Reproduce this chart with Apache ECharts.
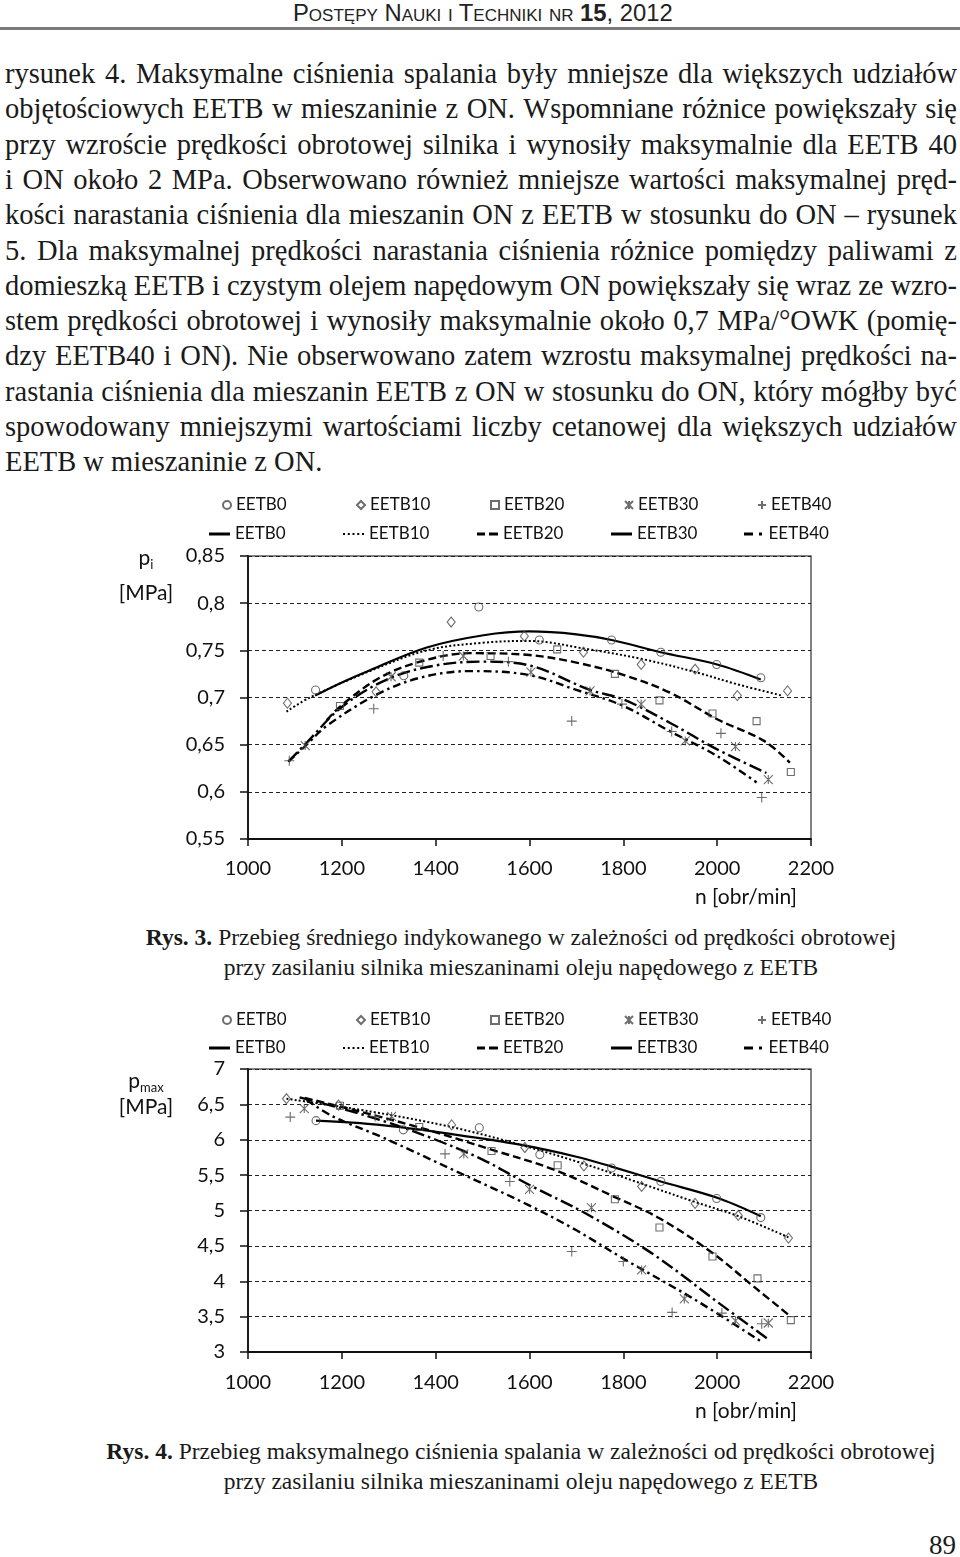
<!DOCTYPE html>
<html>
<head>
<meta charset="utf-8">
<script src="https://cdn.jsdelivr.net/npm/echarts@6/dist/echarts.min.js"></script>
<style>
html,body{margin:0;padding:0;background:#fff;}
body{width:960px;height:1557px;position:relative;overflow:hidden;font-family:"Liberation Serif","Times New Roman",serif;color:#1a1a1a;}
.hdr{position:absolute;left:293px;top:0px;font-family:"Liberation Sans",Arial,sans-serif;font-size:23.8px;line-height:26px;font-variant:small-caps;white-space:nowrap;color:#222;}
.rule{position:absolute;left:0;top:27px;width:960px;height:3px;background:#7a7a7a;}
.ln{position:absolute;left:5px;width:952px;font-size:28.5px;line-height:36px;height:36px;white-space:nowrap;}
.ln.j{display:flex;justify-content:space-between;}
.cap{position:absolute;left:521px;transform:translateX(-50%);font-size:23.5px;line-height:30px;white-space:nowrap;}
.cap b{font-weight:bold;}
.pg{position:absolute;left:929px;top:1529px;font-size:27px;line-height:32px;}
.chart{position:absolute;left:0;width:960px;height:440px;}
</style>
</head>
<body>
<div class="hdr">Postępy Nauki i Techniki nr <b>15</b>, 2012</div>
<div class="rule"></div>
<div id="text"></div>
<div id="c1" class="chart" style="top:480px"></div>
<div class="cap" style="top:922px"><b>Rys. 3.</b> Przebieg średniego indykowanego w zależności od prędkości obrotowej</div>
<div class="cap" style="top:952px">przy zasilaniu silnika mieszaninami oleju napędowego z EETB</div>
<div id="c2" class="chart" style="top:995px"></div>
<div class="cap" style="top:1436px"><b>Rys. 4.</b> Przebieg maksymalnego ciśnienia spalania w zależności od prędkości obrotowej</div>
<div class="cap" style="top:1466px">przy zasilaniu silnika mieszaninami oleju napędowego z EETB</div>
<div class="pg">89</div>
<script>
// ---------- text ----------
const TEXT_LINES = [
  "rysunek 4. Maksymalne ciśnienia spalania były mniejsze dla większych udziałów",
  "objętościowych EETB w mieszaninie z ON. Wspomniane różnice powiększały się",
  "przy wzroście prędkości obrotowej silnika i wynosiły maksymalnie dla EETB 40",
  "i ON około 2 MPa. Obserwowano również mniejsze wartości maksymalnej pręd-",
  "kości narastania ciśnienia dla mieszanin ON z EETB w stosunku do ON – rysunek",
  "5. Dla maksymalnej prędkości narastania ciśnienia różnice pomiędzy paliwami z",
  "domieszką EETB i czystym olejem napędowym ON powiększały się wraz ze wzro-",
  "stem prędkości obrotowej i wynosiły maksymalnie około 0,7 MPa/°OWK (pomię-",
  "dzy EETB40 i ON). Nie obserwowano zatem wzrostu maksymalnej prędkości na-",
  "rastania ciśnienia dla mieszanin EETB z ON w stosunku do ON, który mógłby być",
  "spowodowany mniejszymi wartościami liczby cetanowej dla większych udziałów",
  "EETB w mieszaninie z ON."
];

// ---------- chart data ----------
const SERIES_NAMES = ['EETB0', 'EETB10', 'EETB20', 'EETB30', 'EETB40'];
const N_TICKS = [1000, 1200, 1400, 1600, 1800, 2000, 2200];
const PI_TICKS = ['0,55', '0,6', '0,65', '0,7', '0,75', '0,8', '0,85'];
const PMAX_TICKS = ['3', '3,5', '4', '4,5', '5', '5,5', '6', '6,5', '7'];

// Rys. 3 – measured p_i [MPa] vs n [obr/min]
const PI_PTS_EETB0  = [[1144,0.708],[1332,0.723],[1492,0.796],[1621,0.761],[1775,0.761],[1880,0.748],[1999,0.735],[2093,0.721]];
const PI_PTS_EETB10 = [[1084,0.694],[1273,0.706],[1433,0.780],[1589,0.765],[1715,0.748],[1838,0.735],[1953,0.730],[2043,0.702],[2150,0.707]];
const PI_PTS_EETB20 = [[1196,0.691],[1365,0.737],[1517,0.744],[1659,0.751],[1782,0.725],[1877,0.697],[1990,0.683],[2084,0.675],[2157,0.621]];
const PI_PTS_EETB30 = [[1122,0.649],[1305,0.722],[1459,0.744],[1603,0.727],[1729,0.707],[1838,0.693],[1932,0.654],[2039,0.648],[2109,0.613]];
const PI_PTS_EETB40 = [[1088,0.633],[1268,0.688],[1416,0.744],[1555,0.738],[1690,0.675],[1797,0.693],[1903,0.664],[2008,0.662],[2095,0.594]];

// Rys. 3 – trend lines
const PI_FIT_EETB0  = [[1143,0.702],[1200,0.716],[1260,0.729],[1381,0.753],[1502,0.766],[1600,0.770],[1700,0.767],[1775,0.761],[1880,0.748],[2000,0.735],[2093,0.719]];
const PI_FIT_EETB10 = [[1082,0.685],[1132,0.700],[1260,0.728],[1381,0.750],[1500,0.758],[1600,0.760],[1715,0.752],[1838,0.741],[1953,0.727],[2043,0.714],[2138,0.702]];
const PI_FIT_EETB20 = [[1168,0.676],[1200,0.692],[1281,0.721],[1367,0.738],[1473,0.747],[1600,0.745],[1700,0.737],[1800,0.724],[1900,0.705],[2000,0.677],[2100,0.654],[2155,0.631]];
const PI_FIT_EETB30 = [[1086,0.632],[1125,0.652],[1200,0.690],[1300,0.720],[1400,0.734],[1500,0.738],[1600,0.734],[1729,0.708],[1800,0.698],[1900,0.673],[2000,0.645],[2105,0.620]];
const PI_FIT_EETB40 = [[1086,0.632],[1125,0.650],[1168,0.670],[1274,0.703],[1367,0.721],[1473,0.728],[1597,0.724],[1700,0.708],[1800,0.691],[1900,0.664],[2000,0.638],[2084,0.610]];

// Rys. 4 – measured p_max [MPa] vs n [obr/min]
const PMAX_PTS_EETB0  = [[1145,6.27],[1331,6.14],[1493,6.17],[1622,5.79],[1775,5.60],[1880,5.41],[1999,5.17],[2093,4.90]];
const PMAX_PTS_EETB10 = [[1082,6.58],[1193,6.49],[1434,6.21],[1590,5.89],[1716,5.63],[1839,5.34],[1953,5.10],[2045,4.93],[2152,4.61]];
const PMAX_PTS_EETB20 = [[1196,6.48],[1365,6.18],[1519,5.84],[1660,5.64],[1782,5.16],[1877,4.76],[1990,4.35],[2086,4.04],[2157,3.45]];
const PMAX_PTS_EETB30 = [[1120,6.44],[1306,6.33],[1460,5.80],[1600,5.30],[1732,5.04],[1839,4.16],[1930,3.75],[2039,3.44],[2109,3.41]];
const PMAX_PTS_EETB40 = [[1090,6.32],[1271,6.33],[1420,5.80],[1558,5.41],[1690,4.42],[1800,4.28],[1904,3.56],[2010,3.55],[2095,3.40]];

// Rys. 4 – trend lines
const PMAX_FIT_EETB0  = [[1145,6.27],[1281,6.21],[1445,6.07],[1580,5.93],[1700,5.76],[1775,5.62],[1880,5.41],[2000,5.18],[2093,4.92]];
const PMAX_FIT_EETB10 = [[1082,6.58],[1260,6.40],[1434,6.18],[1580,5.93],[1716,5.66],[1839,5.38],[1953,5.12],[2045,4.92],[2152,4.62]];
const PMAX_FIT_EETB20 = [[1121,6.59],[1196,6.47],[1367,6.17],[1519,5.86],[1651,5.58],[1782,5.19],[1877,4.89],[1990,4.40],[2077,3.93],[2155,3.51]];
const PMAX_FIT_EETB30 = [[1110,6.60],[1200,6.44],[1300,6.24],[1400,6.00],[1500,5.72],[1600,5.36],[1722,4.95],[1864,4.38],[2006,3.68],[2109,3.18]];
const PMAX_FIT_EETB40 = [[1125,6.56],[1181,6.33],[1288,6.03],[1445,5.55],[1597,5.08],[1700,4.72],[1800,4.32],[1950,3.75],[2091,3.16]];

// ---------- build text ----------
(function(){
  const host = document.getElementById('text');
  TEXT_LINES.forEach((s, i) => {
    const d = document.createElement('div');
    d.className = 'ln' + (i < TEXT_LINES.length - 1 ? ' j' : '');
    d.style.top = (74 + 35.3 * i - 18) + 'px';
    if (i < TEXT_LINES.length - 1) {
      s.split(' ').forEach(w => { const sp = document.createElement('span'); sp.textContent = w; d.appendChild(sp); });
    } else d.textContent = s;
    host.appendChild(d);
  });
})();

// ---------- chart builder ----------
const FONT = 'Lato';
const SYMBOLS = ['circle', 'diamond', 'rect',
  'path://M0,0L10,10M10,0L0,10M5,0L5,10',
  'path://M5,0L5,10M0,5L10,5'];
const SYMBOL_SIZES = [8, [8, 10], 7, 9, 10];
const LINE_TYPES = ['solid', [2, 2.2], [8, 4], [13, 4, 2.5, 4], [8, 4, 2.5, 4]];
const LINE_WIDTHS = [2.2, 2, 2.4, 2.4, 2.4];
const LINE_ICONS = [
  'path://M0,0H21V3H0Z',
  'path://M0,0h2v2h-2zM4.75,0h2v2h-2zM9.5,0h2v2h-2zM14.25,0h2v2h-2zM19,0h2v2h-2z',
  'path://M0,0h8v3h-8zM12,0h9v3h-9z',
  'path://M0,0H21V3H0Z',
  'path://M0,0h9v3h-9zM15,0h3v3h-3z'];
const LEGEND_TEXT_X = [235, 369, 503, 637, 770];

function buildOption(cfg) {
  const series = [];
  SERIES_NAMES.forEach((nm, i) => {
    series.push({
      type: 'line', name: nm + ' trend', data: cfg.fits[i], smooth: 0.35,
      symbol: 'none', showSymbol: false, silent: true, z: 2,
      lineStyle: { color: '#000', width: LINE_WIDTHS[i], type: LINE_TYPES[i] },
      itemStyle: { color: '#000', borderWidth: 0 }
    });
  });
  SERIES_NAMES.forEach((nm, i) => {
    series.push({
      type: 'scatter', name: nm, data: cfg.pts[i], symbol: SYMBOLS[i],
      symbolSize: SYMBOL_SIZES[i], z: 3, silent: true,
      itemStyle: { color: 'rgba(0,0,0,0)', borderColor: '#4a4a4a', borderWidth: 1.1 }
    });
  });
  const legends = [];
  SERIES_NAMES.forEach((nm, i) => {
    legends.push({
      data: [{ name: nm, icon: SYMBOLS[i] }], left: LEGEND_TEXT_X[i] - 13, top: cfg.legTop1 - 10,
      padding: 0, itemWidth: 8, itemHeight: 8, selectedMode: false,
      textStyle: { fontFamily: FONT, fontSize: 17, color: '#111', lineHeight: 20 }
    });
    legends.push({
      data: [{ name: nm + ' trend', icon: LINE_ICONS[i], itemStyle: { color: '#000', borderWidth: 0 } }],
      left: LEGEND_TEXT_X[i] - 26, top: cfg.legTop2 - 10,
      padding: 0, itemWidth: 21, itemHeight: 3, selectedMode: false,
      formatter: n => n.replace(' trend', ''),
      textStyle: { fontFamily: FONT, fontSize: 17, color: '#111', lineHeight: 20 }
    });
  });
  return {
    animation: false,
    backgroundColor: '#fff',
    legend: legends,
    grid: { left: 248, right: 149, top: cfg.gridTop, bottom: cfg.gridBottom,
            show: true, borderColor: '#5a5a5a', borderWidth: 1.5, backgroundColor: 'transparent' },
    xAxis: {
      type: 'value', min: N_TICKS[0], max: N_TICKS[N_TICKS.length - 1], interval: 200,
      axisLine: { show: true, lineStyle: { color: '#111', width: 1.8 } },
      axisTick: { show: true, length: 7, lineStyle: { color: '#111', width: 1.5 } },
      axisLabel: { margin: cfg.xLabelMargin, fontFamily: FONT, fontSize: 20, color: '#111',
                   formatter: v => String(N_TICKS[Math.round((v - N_TICKS[0]) / 200)]) },
      splitLine: { show: false }
    },
    yAxis: {
      type: 'value', min: cfg.yMin, max: cfg.yMax, interval: cfg.yInt,
      axisLine: { show: true, lineStyle: { color: '#111', width: 1.8 } },
      axisTick: { show: true, length: 8, lineStyle: { color: '#111', width: 1.5 } },
      axisLabel: { margin: 23, fontFamily: FONT, fontSize: 20, color: '#111',
                   formatter: v => cfg.ticks[Math.round((v - cfg.yMin) / cfg.yInt)] },
      splitLine: { show: true, lineStyle: { color: '#222', width: 1, type: [4, 3] } }
    },
    graphic: [
      { type: 'text', x: cfg.titleX, y: cfg.titleY1, style: {
          text: '{a|p}{b|' + cfg.sub + '}', align: 'center', verticalAlign: 'middle',
          rich: { a: { fontFamily: FONT, fontSize: 21, lineHeight: 26, verticalAlign: 'middle', fill: '#111' },
                  b: { fontFamily: FONT, fontSize: 13, lineHeight: 13, verticalAlign: 'bottom', fill: '#111' } } } },
      { type: 'text', x: cfg.titleX, y: cfg.titleY2, style: {
          text: '[MPa]', align: 'center', verticalAlign: 'middle', fontFamily: FONT, fontSize: 21, fill: '#111' } },
      { type: 'text', x: 746, y: cfg.xTitleY, style: {
          text: 'n [obr/min]', align: 'center', verticalAlign: 'middle', fontFamily: FONT, fontSize: 21, fill: '#111' } }
    ],
    series: series
  };
}

const c1 = echarts.init(document.getElementById('c1'), null, { renderer: 'canvas' });
c1.setOption(buildOption({
  pts: [PI_PTS_EETB0, PI_PTS_EETB10, PI_PTS_EETB20, PI_PTS_EETB30, PI_PTS_EETB40],
  fits: [PI_FIT_EETB0, PI_FIT_EETB10, PI_FIT_EETB20, PI_FIT_EETB30, PI_FIT_EETB40],
  yMin: 0.55, yMax: 0.85, yInt: 0.05, ticks: PI_TICKS, sub: 'i',
  gridTop: 76, gridBottom: 81, legTop1: 25, legTop2: 54, xLabelMargin: 20,
  titleX: 146, titleY1: 78, titleY2: 113, xTitleY: 417
}));

const c2 = echarts.init(document.getElementById('c2'), null, { renderer: 'canvas' });
c2.setOption(buildOption({
  pts: [PMAX_PTS_EETB0, PMAX_PTS_EETB10, PMAX_PTS_EETB20, PMAX_PTS_EETB30, PMAX_PTS_EETB40],
  fits: [PMAX_FIT_EETB0, PMAX_FIT_EETB10, PMAX_FIT_EETB20, PMAX_FIT_EETB30, PMAX_FIT_EETB40],
  yMin: 3, yMax: 7, yInt: 0.5, ticks: PMAX_TICKS, sub: 'max',
  gridTop: 74, gridBottom: 83, legTop1: 25, legTop2: 53, xLabelMargin: 21,
  titleX: 146, titleY1: 86, titleY2: 112, xTitleY: 416
}));
</script>
</body>
</html>
